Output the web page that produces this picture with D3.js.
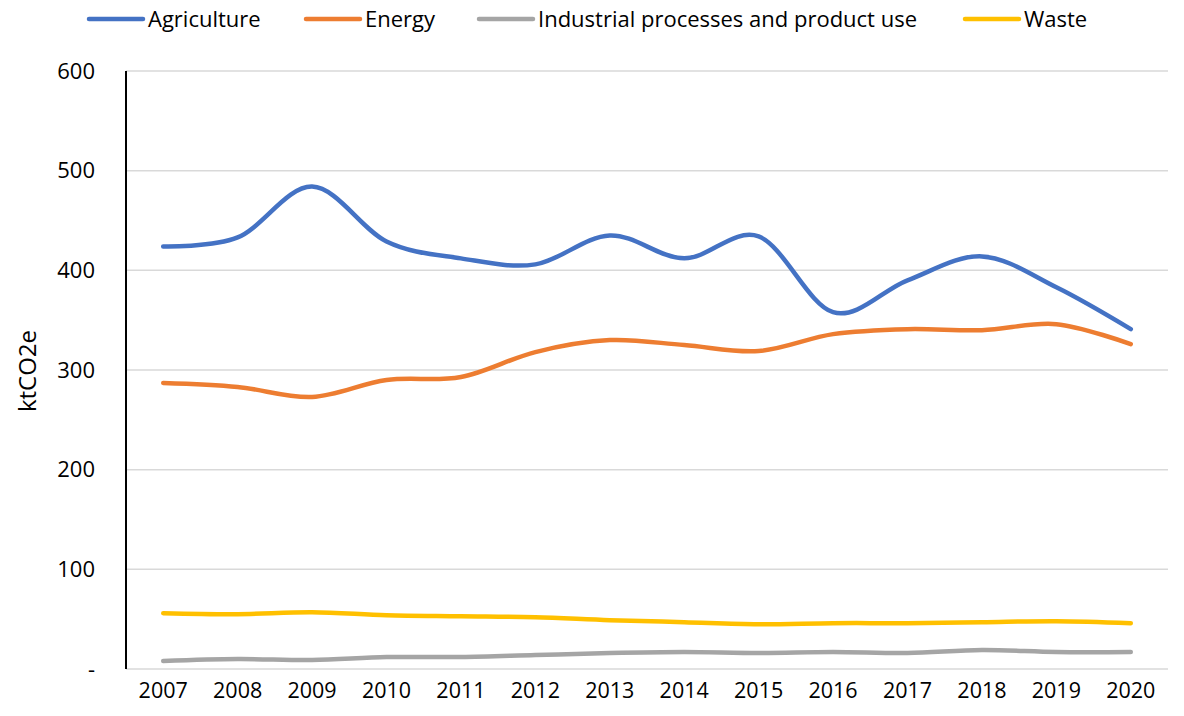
<!DOCTYPE html>
<html>
<head>
<meta charset="utf-8">
<script src="https://cdn.jsdelivr.net/npm/d3@7"></script>
<style>
  body { margin: 0; background: #fff; }
  text { font-family: "Open Sans", "Noto Sans", sans-serif; fill: #000; }
</style>
</head>
<body>
<svg width="1184" height="716"></svg>
<script>
// Data (ktCO2e)
var years = ["2007", "2008", "2009", "2010", "2011", "2012", "2013", "2014", "2015", "2016", "2017", "2018", "2019", "2020"];
var agriculture = [424, 433, 484, 429, 412, 406, 435, 412, 434, 358, 390, 414, 383, 341];
var energy = [287, 283, 273, 290, 293, 318, 330, 325, 319, 336, 341, 340, 346, 326];
var industrial = [8, 10, 9, 12, 12, 14, 16, 17, 16, 17, 16, 19, 17, 17];
var waste = [56, 55, 57, 54, 53, 52, 49, 47, 45, 46, 46, 47, 48, 46];
var yTicks = [0, 100, 200, 300, 400, 500, 600];

var series = [
  {name: "Agriculture", values: agriculture, color: "#4472C4", lx: 89},
  {name: "Energy", values: energy, color: "#ED7D31", lx: 306},
  {name: "Industrial processes and product use", values: industrial, color: "#A5A5A5", lx: 479},
  {name: "Waste", values: waste, color: "#FFC000", lx: 965}
];

var svg = d3.select("svg");
var margin = {top: 71, right: 16, bottom: 47, left: 126};
var width = 1184 - margin.left - margin.right;
var height = 716 - margin.top - margin.bottom;

var x = d3.scaleBand().domain(years).range([0, width]);
var y = d3.scaleLinear().domain([0, 600]).range([height, 0]);

var g = svg.append("g")
    .attr("transform", "translate(" + margin.left + "," + margin.top + ")");

// gridlines
g.append("g")
    .selectAll("line")
    .data(yTicks)
    .enter().append("line")
    .attr("x1", 0)
    .attr("x2", width)
    .attr("y1", function(d) { return y(d); })
    .attr("y2", function(d) { return y(d); })
    .attr("stroke", "#d9d9d9")
    .attr("stroke-width", 1.5);

// y axis
var yAxis = g.append("g")
    .call(d3.axisLeft(y).tickValues(yTicks).tickSize(0).tickPadding(31)
      .tickFormat(function(d) { return d === 0 ? "-" : d; }));
yAxis.select(".domain").remove();
yAxis.selectAll("text").style("font-size", "22px");

g.append("line")
    .attr("x1", 0).attr("x2", 0)
    .attr("y1", 0).attr("y2", height)
    .attr("stroke", "#000")
    .attr("stroke-width", 2);

// x axis
var xAxis = g.append("g")
    .attr("transform", "translate(0," + height + ")")
    .call(d3.axisBottom(x).tickSize(0).tickPadding(14));
xAxis.select(".domain").remove();
xAxis.selectAll("text").style("font-size", "21.5px");

// y label
svg.append("text")
    .attr("transform", "translate(28," + (margin.top + 300) + ") rotate(-90)")
    .attr("text-anchor", "middle")
    .attr("dy", "0.35em")
    .style("font-size", "24px")
    .text("ktCO2e");

// lines
var line = d3.line()
    .x(function(d, i) { return x(years[i]) + x.bandwidth() / 2; })
    .y(function(d) { return y(d); })
    .curve(d3.curveCatmullRom.alpha(0));

g.selectAll(".series")
    .data(series)
    .enter().append("path")
    .attr("class", "series")
    .attr("d", function(d) { return line(d.values); })
    .attr("fill", "none")
    .attr("stroke", function(d) { return d.color; })
    .attr("stroke-width", 4.5)
    .attr("stroke-linecap", "round")
    .attr("stroke-linejoin", "round");

// legend
var legend = svg.append("g").selectAll("g")
    .data(series)
    .enter().append("g")
    .attr("transform", function(d) { return "translate(" + d.lx + ",19)"; });

legend.append("line")
    .attr("x1", 0).attr("x2", 54)
    .attr("stroke", function(d) { return d.color; })
    .attr("stroke-width", 4.5)
    .attr("stroke-linecap", "round");

legend.append("text")
    .attr("x", 59)
    .attr("dy", "0.35em")
    .style("font-size", "22px")
    .text(function(d) { return d.name; });
</script>
</body>
</html>
